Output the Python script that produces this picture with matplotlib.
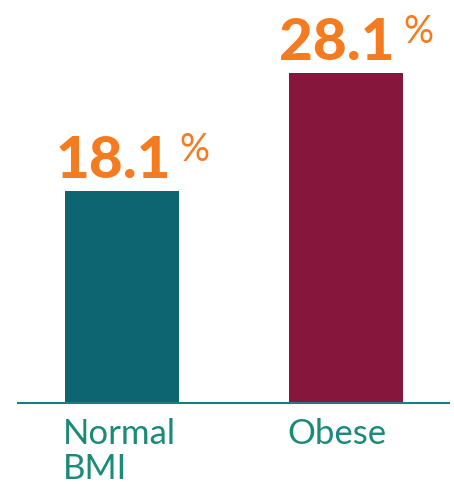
import matplotlib
matplotlib.use("Agg")
import matplotlib.pyplot as plt

categories = ["Normal\nBMI", "Obese"]
values = [18.1, 28.1]
value_labels = ["18.1", "28.1"]
bar_colors = ["#0d6572", "#86163b"]

ORANGE = "#f47b20"
LABEL = "#1b8a78"
AXLINE = "#1f7b82"

W, H = 454, 485
fig = plt.figure(figsize=(W / 100, H / 100), dpi=100)
base_px = 404
ax = fig.add_axes([18 / W, (H - base_px) / H, 431 / W, base_px / H])

unit = 224.0
bw = 114 / unit
xs = list(range(len(values)))
ax.bar(xs, values, width=bw, color=bar_colors, zorder=2)
ax.set_xlim(-(122 - 18) / unit, 1 + (449 - 346) / unit)
ax.set_ylim(0, base_px / 11.74)

for s in ["top", "right", "left"]:
    ax.spines[s].set_visible(False)
ax.spines["bottom"].set_color(AXLINE)
ax.spines["bottom"].set_linewidth(1.5)
ax.set_xticks([])
ax.set_yticks([])

for x, v, lab, cat in zip(xs, values, value_labels, categories):
    t = ax.annotate(lab, xy=(x, v), xytext=(-9, 14), textcoords="offset pixels",
                    ha="center", va="baseline", fontsize=42, fontweight="black",
                    family="Lato", color=ORANGE)
    ax.annotate("%", xy=(1, 1), xycoords=t, xytext=(9, 3), textcoords="offset pixels",
                ha="left", va="top", fontsize=27, family="Lato", color=ORANGE)
    ax.annotate(cat, xy=(x - bw / 2, 0), xytext=(-2, -14), textcoords="offset pixels",
                ha="left", va="top", fontsize=25, family="Lato", fontweight="normal",
                color=LABEL, linespacing=1.1, annotation_clip=False)

fig.savefig("out.png", dpi=100)
